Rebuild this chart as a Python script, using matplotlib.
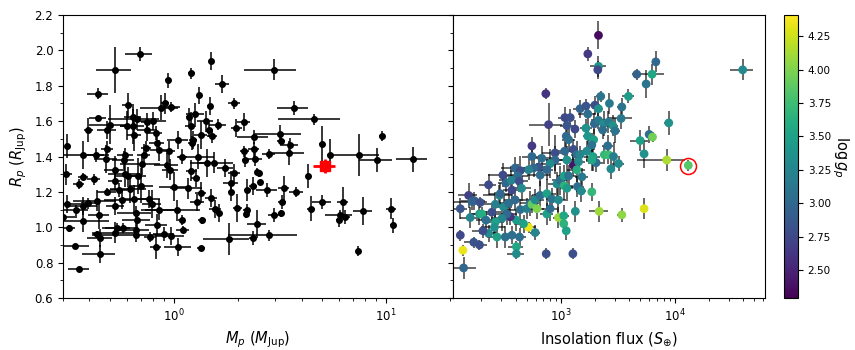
import numpy as np
import matplotlib.pyplot as plt
from matplotlib.ticker import AutoMinorLocator

# left panel: planet mass vs radius
mass = [0.69, 0.53, 0.44, 0.44, 0.315, 0.395, 0.485, 0.61, 0.94, 1.21, 1.49, 1.69, 1.31, 2.95, 1.92,
        3.67, 4.6, 3.18, 3.2, 3.54, 3.5, 4.98, 5.47, 7.5, 9.1, 9.6, 13.4, 4.3, 4.98, 4.42,
        6.25, 6.05, 6.43, 6.0, 7.8, 10.6, 10.75, 7.4, 3.78, 3.3, 3.24, 3.21, 2.97, 2.75, 2.8,
        2.8, 2.47, 2.36, 1.82, 1.34, 1.05, 0.82, 0.97, 0.90, 0.77, 0.66, 0.447, 0.34, 0.357, 0.32,
        0.30, 0.315, 0.31, 0.355, 0.374, 0.374, 0.374, 0.374, 0.345, 0.394, 0.435, 0.445, 0.436, 0.45, 0.42,
        0.43, 0.48, 0.485, 0.485, 0.50, 0.53, 0.53, 0.53, 0.53, 0.54, 0.55, 0.57, 0.575, 0.58, 0.59,
        0.59, 0.61, 0.62, 0.60, 0.64, 0.65, 0.67, 0.64, 0.65, 0.66, 0.66, 0.67, 0.70, 0.68, 0.71,
        0.72, 0.75, 0.75, 0.74, 0.76, 0.79, 0.80, 0.82, 0.83, 0.85, 0.83, 0.85, 0.87, 0.91, 0.95,
        0.93, 0.96, 0.97, 1.0, 1.03, 1.05, 1.09, 1.09, 1.10, 1.16, 1.18, 1.20, 1.22, 1.23, 1.21,
        1.26, 1.27, 1.29, 1.30, 1.34, 1.34, 1.36, 1.41, 1.43, 1.46, 1.48, 1.51, 1.50, 1.54, 1.62,
        1.57, 1.63, 1.75, 1.85, 1.92, 1.85, 1.97, 1.99, 2.13, 2.15, 2.17, 2.22, 2.20, 2.19, 2.38,
        2.38, 2.40, 2.37, 2.47, 2.54, 2.51]
mass_err = [0.10, 0.10, 0.05, 0.04, 0.01, 0.02, 0.05, 0.04, 0.03, 0.05, 0.03, 0.12, 0.03, 0.80, 0.12,
            0.60, 1.5, 0.8, 0.15, 0.3, 0.6, 0.15, 0.2, 1.8, 1.6, 0.3, 2.2, 0.1, 0.5, 0.2,
            0.4, 0.9, 0.3, 0.2, 0.8, 0.6, 0.3, 0.2, 0.3, 0.2, 0.15, 0.1, 0.2, 0.3, 0.2,
            1.0, 0.25, 0.1, 0.45, 0.06, 0.15, 0.05, 0.15, 0.10, 0.05, 0.25, 0.08, 0.06, 0.04, 0.02,
            0.05, 0.05, 0.02, 0.02, 0.02, 0.12, 0.06, 0.12, 0.05, 0.03, 0.10, 0.05, 0.02, 0.06, 0.03,
            0.04, 0.06, 0.05, 0.03, 0.10, 0.06, 0.04, 0.05, 0.12, 0.08, 0.05, 0.10, 0.10, 0.07, 0.05,
            0.10, 0.08, 0.12, 0.04, 0.06, 0.05, 0.18, 0.08, 0.10, 0.12, 0.10, 0.10, 0.10, 0.06, 0.15,
            0.05, 0.08, 0.05, 0.04, 0.10, 0.08, 0.12, 0.06, 0.07, 0.08, 0.10, 0.15, 0.18, 0.04, 0.06,
            0.12, 0.08, 0.10, 0.15, 0.30, 0.12, 0.06, 0.04, 0.08, 0.20, 0.04, 0.07, 0.05, 0.05, 0.07,
            0.12, 0.06, 0.10, 0.25, 0.10, 0.08, 0.06, 0.12, 0.15, 0.05, 0.04, 0.08, 0.10, 0.35, 0.15,
            0.10, 0.05, 0.15, 0.15, 0.12, 0.05, 0.12, 0.10, 0.15, 0.10, 0.08, 0.08, 0.08, 0.05, 0.40,
            0.15, 0.20, 0.10, 0.05, 0.05, 0.05]
radius_l = [1.98, 1.89, 1.755, 1.62, 1.46, 1.55, 1.55, 1.69, 1.83, 1.87, 1.94, 1.81, 1.745, 1.89, 1.70,
            1.675, 1.61, 1.53, 1.49, 1.465, 1.42, 1.47, 1.41, 1.41, 1.38, 1.515, 1.385, 1.29, 1.145, 1.105,
            1.14, 1.07, 1.06, 1.04, 1.09, 1.105, 1.01, 0.865, 1.2, 1.22, 1.145, 1.08, 1.07, 1.21, 1.415,
            0.955, 1.02, 0.94, 0.935, 0.885, 0.89, 0.89, 0.95, 0.96, 0.945, 0.955, 0.85, 0.895, 0.765, 0.995,
            1.06, 1.13, 1.30, 1.245, 1.285, 1.41, 1.12, 1.035, 1.095, 1.135, 1.15, 1.07, 0.96, 0.94, 1.27,
            1.41, 1.385, 1.2, 1.445, 1.58, 1.325, 1.26, 1.12, 0.97, 0.995, 1.21, 1.155, 0.995, 1.38, 1.41,
            1.30, 1.29, 1.215, 1.575, 1.625, 1.52, 1.61, 1.57, 1.16, 1.08, 0.985, 1.04, 1.235, 1.29, 1.355,
            1.41, 1.55, 1.595, 1.45, 1.16, 1.13, 1.60, 1.535, 1.475, 1.435, 1.015, 1.10, 1.675, 1.70, 1.43,
            1.35, 1.325, 1.68, 1.23, 1.095, 1.495, 1.40, 1.04, 0.985, 1.22, 1.625, 1.57, 1.475, 1.495, 1.32,
            1.64, 1.28, 1.14, 1.40, 1.52, 1.195, 1.04, 1.60, 1.365, 1.55, 1.685, 1.515, 1.165, 1.365, 1.58,
            1.105, 1.08, 1.335, 1.25, 1.305, 1.20, 1.56, 1.11, 1.595, 1.43, 1.38, 1.21, 1.10, 1.075, 1.51,
            1.44, 1.385, 1.235, 1.315, 1.255, 1.305]
radius_l_err = [0.04, 0.13, 0.03, 0.01, 0.07, 0.07, 0.05, 0.07, 0.04, 0.03, 0.05, 0.05, 0.05, 0.06, 0.03,
                0.04, 0.03, 0.05, 0.03, 0.04, 0.07, 0.10, 0.09, 0.12, 0.07, 0.03, 0.07, 0.07, 0.04, 0.07,
                0.09, 0.03, 0.04, 0.04, 0.08, 0.06, 0.04, 0.03, 0.03, 0.07, 0.04, 0.02, 0.04, 0.04, 0.03,
                0.03, 0.08, 0.04, 0.09, 0.01, 0.05, 0.07, 0.05, 0.04, 0.03, 0.04, 0.05, 0.01, 0.01, 0.02,
                0.03, 0.05, 0.06, 0.03, 0.02, 0.08, 0.05, 0.06, 0.03, 0.03, 0.06, 0.08, 0.02, 0.05, 0.03,
                0.04, 0.08, 0.02, 0.04, 0.11, 0.08, 0.05, 0.05, 0.06, 0.03, 0.04, 0.05, 0.03, 0.05, 0.04,
                0.07, 0.05, 0.08, 0.08, 0.06, 0.09, 0.06, 0.10, 0.08, 0.04, 0.04, 0.06, 0.10, 0.10, 0.06,
                0.06, 0.06, 0.05, 0.04, 0.05, 0.08, 0.05, 0.04, 0.04, 0.06, 0.06, 0.06, 0.07, 0.06, 0.06,
                0.07, 0.06, 0.03, 0.08, 0.06, 0.05, 0.04, 0.03, 0.02, 0.06, 0.05, 0.08, 0.04, 0.05, 0.06,
                0.06, 0.05, 0.05, 0.07, 0.08, 0.06, 0.02, 0.06, 0.08, 0.04, 0.05, 0.04, 0.05, 0.06, 0.03,
                0.05, 0.05, 0.05, 0.07, 0.05, 0.05, 0.05, 0.08, 0.05, 0.03, 0.04, 0.06, 0.03, 0.02, 0.04,
                0.04, 0.04, 0.05, 0.02, 0.01, 0.02]

# highlighted planet
target_mass, target_mass_err = 5.14, 0.6
target_rad, target_rad_err = 1.345, 0.04
target_flux, target_flux_err = 13150, 800

# right panel: insolation vs radius, coloured by log g
flux = [2140, 1725, 2140, 2110, 4640, 6320, 6820, 5610, 39500, 738, 2240, 3920, 2670, 3430, 1475,
        1660, 1990, 2140, 1725, 1085, 1210, 780, 1130, 1330, 1660, 1970, 2140, 2370, 2620, 2860,
        3000, 2330, 3380, 8860, 1115, 1725, 1940, 557, 4970, 5960, 6380, 557, 1170, 1290, 1380,
        1080, 890, 1475, 1690, 1870, 1910, 2410, 2620, 2580, 2900, 3210, 2750, 2040, 1870, 5380,
        8500, 13150, 1290, 1430, 1380, 1130, 890, 806, 680, 754, 659, 637, 576, 520, 397,
        440, 417, 310, 329, 367, 431, 452, 372, 289, 232, 155, 166, 174, 196, 131,
        160, 193, 203, 220, 248, 266, 294, 314, 348, 397, 440, 503, 538, 557, 616,
        595, 659, 754, 834, 953, 923, 987, 1070, 1130, 1070, 1170, 1400, 1510, 1530, 1870,
        754, 806, 953, 1060, 1060, 1115, 1340, 2170, 3430, 5380, 520, 595, 470, 407, 360,
        336, 304, 266, 261, 232, 207, 275, 325, 372, 434, 407, 407, 172, 193, 131,
        138, 140, 744, 1275]
flux_err = [150, 100, 350, 100, 400, 1800, 500, 400, 9000, 50, 200, 500, 200, 300, 200,
            150, 200, 200, 300, 150, 100, 250, 150, 100, 200, 150, 300, 250, 200, 300,
            300, 200, 800, 800, 100, 150, 200, 40, 900, 400, 500, 100, 150, 120, 150,
            150, 200, 100, 200, 150, 300, 200, 200, 300, 200, 400, 200, 300, 200, 200,
            3800, 800, 100, 200, 250, 200, 150, 200, 150, 100, 150, 100, 100, 150, 100,
            80, 100, 80, 50, 80, 80, 100, 60, 80, 40, 30, 50, 40, 30, 20,
            30, 30, 40, 40, 50, 60, 60, 60, 60, 80, 100, 80, 100, 60, 100,
            120, 100, 150, 100, 150, 150, 150, 200, 150, 150, 200, 200, 150, 200, 150,
            100, 120, 100, 120, 80, 80, 100, 400, 300, 300, 80, 60, 80, 60, 50,
            80, 60, 50, 60, 40, 40, 50, 60, 50, 60, 60, 70, 30, 30, 10,
            10, 40, 60, 80]
radius_r = [2.085, 1.98, 1.91, 1.89, 1.865, 1.865, 1.935, 1.81, 1.89, 1.755, 1.74, 1.74, 1.70, 1.68, 1.67,
            1.685, 1.69, 1.67, 1.64, 1.62, 1.62, 1.58, 1.575, 1.555, 1.56, 1.585, 1.605, 1.585, 1.595, 1.575,
            1.545, 1.55, 1.615, 1.59, 1.515, 1.515, 1.495, 1.46, 1.49, 1.525, 1.51, 1.40, 1.495, 1.44, 1.41,
            1.43, 1.42, 1.41, 1.43, 1.465, 1.40, 1.41, 1.41, 1.46, 1.40, 1.36, 1.33, 1.365, 1.38, 1.415,
            1.38, 1.35, 1.35, 1.37, 1.325, 1.38, 1.38, 1.36, 1.39, 1.325, 1.295, 1.34, 1.335, 1.325, 1.335,
            1.32, 1.29, 1.295, 1.25, 1.265, 1.26, 1.22, 1.21, 1.18, 1.24, 1.18, 1.145, 1.15, 1.14, 1.105,
            1.055, 1.075, 1.075, 1.04, 1.085, 1.13, 1.19, 1.115, 1.135, 1.155, 1.10, 1.105, 1.135, 1.13, 1.105,
            1.155, 1.18, 1.19, 1.16, 1.155, 1.245, 1.265, 1.235, 1.22, 1.29, 1.29, 1.23, 1.205, 1.285, 1.20,
            1.075, 1.105, 1.055, 1.065, 1.02, 0.98, 1.09, 1.09, 1.07, 1.105, 1.0, 0.97, 1.02, 1.04, 1.06,
            1.075, 1.05, 1.03, 1.0, 0.965, 0.98, 0.945, 0.945, 0.955, 0.945, 0.89, 0.85, 0.915, 0.90, 0.955,
            0.87, 0.77, 0.85, 0.85]
radius_r_err = [0.08, 0.04, 0.06, 0.05, 0.03, 0.06, 0.06, 0.08, 0.06, 0.03, 0.03, 0.04, 0.06, 0.05, 0.05,
                0.04, 0.05, 0.08, 0.06, 0.06, 0.05, 0.12, 0.06, 0.05, 0.05, 0.06, 0.05, 0.07, 0.06, 0.06,
                0.07, 0.05, 0.06, 0.07, 0.07, 0.05, 0.06, 0.05, 0.06, 0.05, 0.03, 0.06, 0.07, 0.06, 0.08,
                0.06, 0.10, 0.05, 0.06, 0.07, 0.08, 0.05, 0.05, 0.06, 0.08, 0.04, 0.06, 0.05, 0.06, 0.08,
                0.06, 0.03, 0.06, 0.06, 0.07, 0.08, 0.08, 0.08, 0.07, 0.06, 0.06, 0.07, 0.05, 0.06, 0.06,
                0.08, 0.07, 0.07, 0.05, 0.08, 0.06, 0.07, 0.06, 0.06, 0.06, 0.07, 0.05, 0.05, 0.03, 0.06,
                0.06, 0.06, 0.04, 0.05, 0.05, 0.07, 0.06, 0.07, 0.08, 0.06, 0.06, 0.06, 0.07, 0.05, 0.06,
                0.06, 0.08, 0.08, 0.06, 0.07, 0.07, 0.08, 0.08, 0.07, 0.06, 0.06, 0.06, 0.06, 0.05, 0.05,
                0.06, 0.07, 0.06, 0.06, 0.06, 0.05, 0.06, 0.06, 0.04, 0.06, 0.03, 0.04, 0.05, 0.06, 0.05,
                0.06, 0.07, 0.06, 0.05, 0.05, 0.04, 0.06, 0.06, 0.05, 0.05, 0.03, 0.03, 0.03, 0.03, 0.03,
                0.03, 0.06, 0.03, 0.03]
logg = [2.35, 2.65, 3.35, 2.75, 2.95, 3.55, 3.0, 3.1, 3.3, 2.6, 3.1, 3.45, 3.15, 3.1, 2.95,
        2.85, 2.8, 3.35, 3.05, 2.75, 2.8, 2.7, 2.85, 2.75, 3.35, 3.0, 3.15, 3.3, 3.15, 3.35,
        3.1, 3.05, 3.15, 3.35, 3.0, 3.4, 3.5, 2.65, 3.5, 3.05, 3.95, 3.0, 3.05, 2.8, 3.05,
        3.0, 2.8, 3.25, 3.3, 3.1, 3.5, 3.7, 3.75, 3.05, 3.2, 3.3, 3.3, 3.05, 3.55, 3.35,
        4.15, 3.85, 2.4, 3.3, 3.6, 3.35, 3.0, 3.3, 3.05, 3.0, 3.05, 2.85, 3.0, 3.25, 3.0,
        2.8, 3.05, 2.75, 3.0, 3.25, 2.8, 3.3, 2.75, 3.3, 2.75, 2.7, 3.0, 2.95, 2.8, 2.85,
        3.25, 3.45, 3.6, 3.05, 2.8, 3.2, 3.0, 3.3, 3.05, 3.0, 3.05, 3.2, 3.05, 3.9, 4.0,
        3.3, 3.05, 3.5, 3.1, 3.3, 3.3, 3.05, 3.65, 3.45, 3.5, 3.1, 3.05, 3.3, 3.15, 3.7,
        3.5, 3.05, 4.1, 3.55, 3.65, 3.5, 3.35, 4.1, 4.05, 4.3, 4.35, 3.25, 3.5, 3.45, 2.6,
        3.0, 3.25, 3.5, 3.35, 3.3, 2.8, 3.5, 3.05, 3.05, 3.05, 3.55, 3.3, 2.85, 2.8, 2.75,
        4.35, 3.0, 2.8, 2.8]

plt.rcParams['font.family'] = 'DejaVu Sans'

fig = plt.figure(figsize=(8.55, 3.5), dpi=100)
ax1 = fig.add_axes([63 / 855, 52 / 350, 390 / 855, 283 / 350])
ax2 = fig.add_axes([453 / 855, 52 / 350, 312 / 855, 283 / 350], sharey=ax1)
cax = fig.add_axes([784 / 855, 52 / 350, 14 / 855, 283 / 350])

# left panel
ax1.errorbar(mass, radius_l, xerr=mass_err, yerr=radius_l_err, fmt='o', color='k',
             ms=4, ecolor='k', elinewidth=1.1, zorder=2)
ax1.errorbar(target_mass, target_rad, xerr=target_mass_err, yerr=target_rad_err, fmt='s',
             color='red', ms=7, ecolor='red', elinewidth=2, zorder=4)
ax1.set_xscale('log')
ax1.set_xlim(0.3, 20.7)
ax1.set_ylim(0.6, 2.2)
ax1.set_xlabel(r'$M_p$ ($M_{\rm Jup}$)', fontsize=10.5)
ax1.set_ylabel(r'$R_p$ ($R_{\rm Jup}$)', fontsize=10.5)

# right panel
ax2.errorbar(flux, radius_r, xerr=flux_err, yerr=radius_r_err, fmt='none',
             ecolor='k', elinewidth=1.1, alpha=0.75, zorder=1)
sc = ax2.scatter(flux, radius_r, c=logg, cmap='viridis', vmin=2.29, vmax=4.41,
                 s=28, zorder=3)
ax2.plot(target_flux, target_rad, 'o', mfc='none', mec='red', ms=11.5, mew=1.1, zorder=4)
ax2.set_xscale('log')
ax2.set_xlim(113, 62000)
ax2.set_xlabel(r'Insolation flux ($S_{\oplus}$)', fontsize=10.5)
ax2.tick_params(labelleft=False)

for ax in (ax1, ax2):
    ax.yaxis.set_minor_locator(AutoMinorLocator(2))
    ax.tick_params(labelsize=8.5)

cb = fig.colorbar(sc, cax=cax)
cb.set_ticks([2.5, 2.75, 3.0, 3.25, 3.5, 3.75, 4.0, 4.25])
cb.ax.tick_params(labelsize=7.5)
cb.set_label(r'$\log g_p$', fontsize=10.5, rotation=270, labelpad=14)

fig.savefig('out.png', dpi=100)
